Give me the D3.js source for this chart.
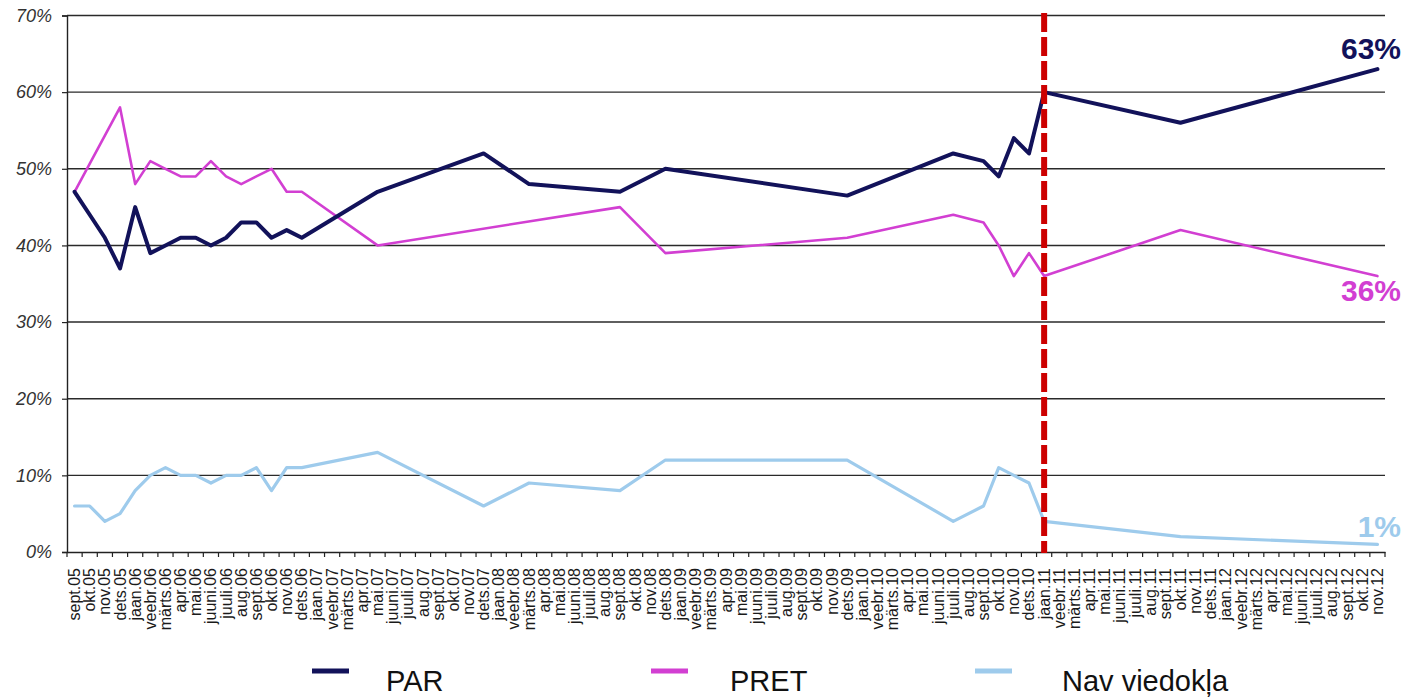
<!DOCTYPE html>
<html><head><meta charset="utf-8">
<script src="https://cdn.jsdelivr.net/npm/d3@7"></script>
<style>html,body{margin:0;padding:0;background:#fff;}svg{display:block;}</style>
</head><body>
<svg id="c" width="1408" height="699"></svg>
<script>
const months = ["sept.05","okt.05","nov.05","dets.05",
"jaan.06","veebr.06","märts.06","apr.06","mai.06","juuni.06","juuli.06","aug.06","sept.06","okt.06","nov.06","dets.06",
"jaan.07","veebr.07","märts.07","apr.07","mai.07","juuni.07","juuli.07","aug.07","sept.07","okt.07","nov.07","dets.07",
"jaan.08","veebr.08","märts.08","apr.08","mai.08","juuni.08","juuli.08","aug.08","sept.08","okt.08","nov.08","dets.08",
"jaan.09","veebr.09","märts.09","apr.09","mai.09","juuni.09","juuli.09","aug.09","sept.09","okt.09","nov.09","dets.09",
"jaan.10","veebr.10","märts.10","apr.10","mai.10","juuni.10","juuli.10","aug.10","sept.10","okt.10","nov.10","dets.10",
"jaan.11","veebr.11","märts.11","apr.11","mai.11","juuni.11","juuli.11","aug.11","sept.11","okt.11","nov.11","dets.11",
"jaan.12","veebr.12","märts.12","apr.12","mai.12","juuni.12","juuli.12","aug.12","sept.12","okt.12","nov.12"];

// survey values (only months with a survey)
const parMonths  = ["sept.05","okt.05","nov.05","dets.05","jaan.06","veebr.06","märts.06","apr.06","mai.06","juuni.06","juuli.06","aug.06","sept.06","okt.06","nov.06","dets.06","mai.07","dets.07","märts.08","sept.08","dets.08","dets.09","juuli.10","sept.10","okt.10","nov.10","dets.10","jaan.11","okt.11","nov.12"];
const parValues  = [47,44,41,37,45,39,40,41,41,40,41,43,43,41,42,41,47,52,48,47,50,46.5,52,51,49,54,52,60,56,63];

const pretMonths = ["sept.05","dets.05","jaan.06","veebr.06","märts.06","apr.06","mai.06","juuni.06","juuli.06","aug.06","sept.06","okt.06","nov.06","dets.06","mai.07","sept.08","dets.08","dets.09","juuli.10","sept.10","okt.10","nov.10","dets.10","jaan.11","okt.11","nov.12"];
const pretValues = [47,58,48,51,50,49,49,51,49,48,49,50,47,47,40,45,39,41,44,43,40,36,39,36,42,36];

const navMonths  = ["sept.05","okt.05","nov.05","dets.05","jaan.06","veebr.06","märts.06","apr.06","mai.06","juuni.06","juuli.06","aug.06","sept.06","okt.06","nov.06","dets.06","mai.07","dets.07","märts.08","sept.08","dets.08","dets.09","juuli.10","sept.10","okt.10","nov.10","dets.10","jaan.11","okt.11","nov.12"];
const navValues  = [6,6,4,5,8,10,11,10,10,9,10,10,11,8,11,11,13,6,9,8,12,12,4,6,11,10,9,4,2,1];

const yTicks = [0,10,20,30,40,50,60,70];
const seriesNames = ["PAR","PRET","Nav viedokļa"];
const seriesColors = ["#12125a","#d23fd2","#9ecbec"];
const endLabels = ["63%","36%","1%"];
const markerMonth = "jaan.11";

const svg = d3.select("#c");
const L = 67, R = 1385, T = 15.5, B = 552;
const x = d3.scaleBand().domain(months).range([L, R]).padding(0);
const bw = x.bandwidth();
const cx = m => x(m) + bw/2;
const y = d3.scaleLinear().domain([0,70]).range([B, T]);

// gridlines
svg.append("g").selectAll("line").data(yTicks.filter(v=>v>0)).join("line")
  .attr("x1", L).attr("x2", R).attr("y1", d=>y(d)).attr("y2", d=>y(d))
  .attr("stroke", "#2a2a2a").attr("stroke-width", 1.4);

// y axis
const yAxis = d3.axisLeft(y).tickValues(yTicks).tickSize(5).tickPadding(10).tickFormat(d=>d+"%");
const gy = svg.append("g").attr("transform", `translate(${L},0)`).call(yAxis);
gy.select(".domain").attr("stroke","#222").attr("stroke-width",1.4);
gy.selectAll(".tick line").attr("stroke","#222").attr("stroke-width",1.2);
gy.selectAll(".tick text").attr("font-family","Liberation Sans, Arial, sans-serif")
  .attr("font-size","18px").attr("font-style","italic").attr("fill","#333");

// x axis
const xAxis = d3.axisBottom(x).tickSize(0).tickPadding(0);
const gx = svg.append("g").attr("transform", `translate(0,${B})`).call(xAxis);
gx.select(".domain").attr("stroke","#222").attr("stroke-width",1.4);
gx.selectAll(".tick text")
  .attr("font-family","Liberation Sans, Arial, sans-serif").attr("font-size","16px").attr("fill","#1a1a1a")
  .attr("text-anchor","end").attr("dy",null).attr("y",null)
  .attr("transform","translate(5.5,16) rotate(-90)");
// boundary ticks
svg.append("g").selectAll("line").data(months.concat(["__end"])).join("line")
  .attr("x1", d => d==="__end" ? R : x(d)).attr("x2", d => d==="__end" ? R : x(d))
  .attr("y1", B).attr("y2", B+5).attr("stroke","#222").attr("stroke-width",1.2);

// lines
const seriesData = [
  parMonths.map((m,i)=>({m, v:parValues[i]})),
  pretMonths.map((m,i)=>({m, v:pretValues[i]})),
  navMonths.map((m,i)=>({m, v:navValues[i]}))
];
const widths = [4, 2.6, 3.2];
const line = d3.line().x(d=>cx(d.m)).y(d=>y(d.v));
[2,1,0].forEach(k=>{
  svg.append("path").datum(seriesData[k]).attr("d", line)
    .attr("fill","none").attr("stroke", seriesColors[k]).attr("stroke-width", widths[k])
    .attr("stroke-linejoin","round").attr("stroke-linecap","round");
});

// red dashed marker
svg.append("line").attr("x1", cx(markerMonth)).attr("x2", cx(markerMonth))
  .attr("y1", 13).attr("y2", B+1)
  .attr("stroke","#cc0000").attr("stroke-width",6).attr("stroke-dasharray","19,5");

// end labels
const last = seriesData.map(s=>s[s.length-1]);
const labelY = [y(last[0].v)-10, y(last[1].v)+25, y(last[2].v)-7];
endLabels.forEach((t,k)=>{
  svg.append("text").attr("x", 1401).attr("y", labelY[k]).attr("text-anchor","end")
    .attr("font-family","Liberation Sans, Arial, sans-serif").attr("font-size","30px")
    .attr("font-weight","bold")
    .attr("fill", seriesColors[k]).text(t);
});

// legend
const legX = [312, 651, 975];
const legTextX = [386, 730, 1062];
seriesNames.forEach((n,k)=>{
  svg.append("line").attr("x1", legX[k]).attr("x2", legX[k]+37).attr("y1", 671).attr("y2", 671)
    .attr("stroke", seriesColors[k]).attr("stroke-width", 5);
  svg.append("text").attr("x", legTextX[k]).attr("y", 691)
    .attr("font-family","Liberation Sans, Arial, sans-serif").attr("font-size","29px")
    .attr("fill","#111").text(n);
});
</script>
</body></html>
